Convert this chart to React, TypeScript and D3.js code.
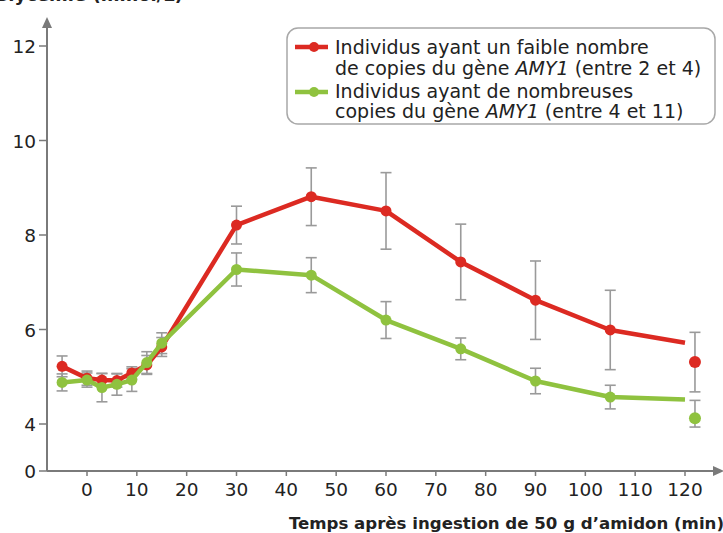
import React from "react";
import * as d3 from "d3";

const times = [-5, 0, 3, 6, 9, 12, 15, 30, 45, 60, 75, 90, 105, 120];
const lowValues = [5.22, 4.97, 4.93, 4.92, 5.08, 5.25, 5.63, 8.21, 8.81, 8.51, 7.43, 6.62, 5.99, 5.72];
const lowErrors = [0.22, 0.15, 0.14, 0.14, 0.13, 0.2, 0.2, 0.4, 0.61, 0.81, 0.8, 0.83, 0.84, 0];
const highValues = [4.88, 4.93, 4.77, 4.84, 4.93, 5.3, 5.71, 7.27, 7.15, 6.2, 5.59, 4.91, 4.57, 4.52];
const highErrors = [0.18, 0.15, 0.3, 0.23, 0.24, 0.23, 0.22, 0.35, 0.37, 0.39, 0.23, 0.27, 0.25, 0];
const finalTime = 122;
const lowFinal = 5.31;
const lowFinalError = 0.63;
const highFinal = 4.12;
const highFinalError = 0.38;

const xTicks = [0, 10, 20, 30, 40, 50, 60, 70, 80, 90, 100, 110, 120];
const yTicks = [0, 4, 6, 8, 10, 12];

const legendLabels = [
  ["Individus ayant un faible nombre", "de copies du gène ", "AMY1", " (entre 2 et 4)"],
  ["Individus ayant de nombreuses", "copies du gène ", "AMY1", " (entre 4 et 11)"],
];

const RED = "#dc2a22";
const GREEN = "#8fc23f";
const AXIS = "#7a7a7a";
const ERR = "#9a9a9a";
const FONT = "'DejaVu Sans', 'Open Sans', sans-serif";

export default function App() {
  const x = d3.scaleLinear().domain([0, 120]).range([87, 685]);
  const y = d3.scaleLinear().domain([0, 4, 12]).range([471, 424, 46]);
  const line = d3
    .line<[number, number]>()
    .x((d) => x(d[0]))
    .y((d) => y(d[1]));

  const series = [
    { values: lowValues, errors: lowErrors, color: RED, fin: lowFinal, finErr: lowFinalError },
    { values: highValues, errors: highErrors, color: GREEN, fin: highFinal, finErr: highFinalError },
  ];

  const errBar = (t: number, v: number, e: number, key: string) => {
    if (!e) return null;
    const cx = x(t);
    const y1 = y(v + e);
    const y2 = y(v - e);
    return (
      <g key={key} stroke={ERR} strokeWidth={1.6}>
        <line x1={cx} x2={cx} y1={y1} y2={y2} />
        <line x1={cx - 5.5} x2={cx + 5.5} y1={y1} y2={y1} />
        <line x1={cx - 5.5} x2={cx + 5.5} y1={y2} y2={y2} />
      </g>
    );
  };

  return (
    <svg
      width={723}
      height={533}
      style={{ position: "absolute", left: 0, top: 0, background: "#fff" }}
      fontFamily={FONT}
    >
      <text x={183} y={1} textAnchor="end" fontSize={18} fontWeight="bold" fill="#222">
        Glycémie (mmol/L)
      </text>

      {/* axes */}
      <line x1={47} x2={47} y1={471} y2={26} stroke={AXIS} strokeWidth={2} />
      <path d="M47,17 L42,28 L52,28 Z" fill={AXIS} />
      <line x1={47} x2={714} y1={471} y2={471} stroke={AXIS} strokeWidth={2} />
      <path d="M724,471 L713,466 L713,476 Z" fill={AXIS} />

      {yTicks.map((t) => (
        <g key={"y" + t}>
          <line x1={39} x2={47} y1={y(t)} y2={y(t)} stroke={AXIS} strokeWidth={1.5} />
          <text x={36} y={y(t) + 7} textAnchor="end" fontSize={18.5} fill="#222">
            {t}
          </text>
        </g>
      ))}
      {xTicks.map((t) => (
        <g key={"x" + t}>
          <line x1={x(t)} x2={x(t)} y1={471} y2={476} stroke={AXIS} strokeWidth={1.5} />
          <text x={x(t)} y={496} textAnchor="middle" fontSize={18.5} fill="#222">
            {t}
          </text>
        </g>
      ))}
      <text x={724} y={529} textAnchor="end" fontSize={16.6} fontWeight="bold" fill="#222">
        Temps après ingestion de 50 g d’amidon (min)
      </text>

      {/* error bars */}
      {series.map((s, si) => (
        <g key={"e" + si}>
          {times.map((t, i) => errBar(t, s.values[i], s.errors[i], `e${si}-${i}`))}
          {errBar(finalTime, s.fin, s.finErr, `ef${si}`)}
        </g>
      ))}

      {/* lines */}
      {series.map((s, si) => (
        <g key={"s" + si}>
          <path
            d={line(times.map((t, i) => [t, s.values[i]] as [number, number])) || ""}
            fill="none"
            stroke={s.color}
            strokeWidth={4.5}
            strokeLinejoin="round"
          />
          {times.slice(0, -1).map((t, i) => (
            <circle key={i} cx={x(t)} cy={y(s.values[i])} r={5.5} fill={s.color} />
          ))}
          <circle cx={x(finalTime)} cy={y(s.fin)} r={6} fill={s.color} />
        </g>
      ))}

      {/* legend */}
      <rect x={287} y={28} width={428} height={96} rx={11} fill="#fff" stroke="#a8a8a8" strokeWidth={1.5} />
      {[RED, GREEN].map((c, i) => (
        <g key={"l" + i}>
          <line x1={295} x2={328} y1={47 + i * 45} y2={47 + i * 45} stroke={c} strokeWidth={4.5} />
          <circle cx={314} cy={47 + i * 45} r={5} fill={c} />
          <text x={335} y={53.5 + i * 44} fontSize={19} fill="#222">
            {legendLabels[i][0]}
          </text>
          <text x={335} y={74.5 + i * 43} fontSize={19} fill="#222">
            {legendLabels[i][1]}
            <tspan fontStyle="italic">{legendLabels[i][2]}</tspan>
            {legendLabels[i][3]}
          </text>
        </g>
      ))}
    </svg>
  );
}
